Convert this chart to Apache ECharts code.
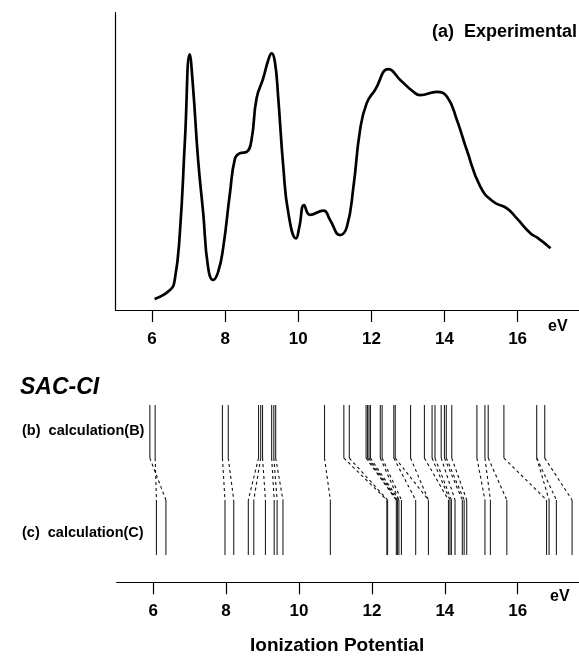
<!DOCTYPE html>
<html>
<head>
<meta charset="utf-8">
<script src="https://cdn.jsdelivr.net/npm/echarts@6/dist/echarts.min.js"></script>
<style>
html,body{margin:0;padding:0;background:#fff;}
#c{width:579px;height:669px;}
</style>
</head>
<body>
<div id="c"></div>
<script>
// Experimental spectrum (eV, relative intensity)
const expX = [6.07,6.49,6.62,6.76,6.90,7.03,7.12,7.26,7.40,7.53,7.67,7.81,7.95,8.13,8.27,8.40,8.59,8.72,8.86,9.04,9.18,9.27,9.36,9.45,9.59,9.73,9.94,10.03,10.16,10.32,10.69,10.87,11.14,11.33,11.51,11.69,11.87,12.10,12.47,12.79,13.15,13.33,13.79,14.07,14.34,14.61,14.98,15.34,15.71,15.98,16.35,16.53,16.90];
const expY = [3.7,6.7,10.1,25.8,57.2,86.0,75.1,50.5,32.5,14.6,10.1,12.9,21.3,39.2,51.0,52.7,53.2,57.2,71.2,77.9,84.1,86.3,83.5,71.7,48.2,32.5,24.1,28.0,35.3,32.0,33.4,30.3,25.2,28.0,41.5,60.5,69.5,74.0,81.0,77.4,73.4,72.3,73.4,71.7,63.9,53.8,41.5,36.4,34.2,30.8,25.8,24.4,20.8];

// SAC-CI calculated ionization potentials (eV)
const calcB = [5.91,6.055,7.90,8.06,8.89,8.95,9.00,9.25,9.31,9.36,10.70,11.23,11.38,11.84,11.88,11.92,11.96,12.23,12.28,12.60,12.64,13.06,13.44,13.65,13.73,13.90,13.99,14.04,14.19,14.88,15.10,15.19,15.62,16.52,16.74];
const calcC = [6.09,6.35,7.97,8.21,8.61,8.76,9.08,9.32,9.40,9.56,10.86,12.41,12.43,12.67,12.70,12.74,12.81,13.20,13.55,14.10,14.14,14.18,14.28,14.48,14.53,14.60,15.10,15.25,15.70,16.79,16.86,17.06,17.49];
// correlation links: [index in calcB, index in calcC]
const links = [[0,1],[1,0],[2,2],[3,3],[4,4],[5,5],[6,6],[7,7],[8,8],[9,9],[10,10],
  [11,11],[12,12],[13,13],[14,13],[15,14],[16,15],[17,15],[18,16],[19,17],[20,18],[21,18],
  [22,19],[23,20],[24,21],[25,22],[26,23],[27,24],[28,25],[29,26],[30,27],[31,28],[32,29],[33,30],[33,31],[34,32]];

const xTicks = [6,8,10,12,14,16];

const FONT = '"Liberation Sans", Arial, sans-serif';
// vertical layout (bottom panel y units)
const B_TOP = 92.2, B_BOT = 64.6, C_TOP = 42.8, C_BOT = 14.2;

function stickRender(yTop, yBot){
  return function(params, api){
    const x = api.value(0);
    const p1 = api.coord([x, yTop]);
    const p2 = api.coord([x, yBot]);
    return {type:'line', shape:{x1:p1[0],y1:p1[1],x2:p2[0],y2:p2[1]},
      style:{stroke:'#222', lineWidth:1.1}};
  };
}

const chart = echarts.init(document.getElementById('c'));
const xAxisBase = {
  type:'value', min:5, max:17.68,
  axisLine:{show:true, onZero:false, lineStyle:{color:'#000', width:1.2}},
  axisTick:{show:true, customValues:xTicks, length:12, lineStyle:{color:'#000', width:1.2}},
  axisLabel:{show:true, customValues:xTicks, margin:21, color:'#000', fontSize:17, fontWeight:'bold', fontFamily:FONT},
  splitLine:{show:false}
};
chart.setOption({
  animation:false,
  backgroundColor:'#fff',
  grid:[
    {left:115.5, right:0, top:12.7, bottom:669-310},
    {left:116.7, right:0, top:390, bottom:669-582.3}
  ],
  xAxis:[
    Object.assign({gridIndex:0}, xAxisBase),
    Object.assign({gridIndex:1}, xAxisBase)
  ],
  yAxis:[
    {gridIndex:0, type:'value', min:0, max:100, axisLine:{show:true, lineStyle:{color:'#000', width:1.2}},
      axisTick:{show:false}, axisLabel:{show:false}, splitLine:{show:false}},
    {gridIndex:1, type:'value', min:0, max:100, show:false, splitLine:{show:false}}
  ],
  series:[
    {type:'line', xAxisIndex:0, yAxisIndex:0, data:expX.map((x,i)=>[x,expY[i]]),
      smooth:0.5, symbol:'none', lineStyle:{color:'#000', width:2.7}},
    {type:'custom', xAxisIndex:1, yAxisIndex:1, data:calcB.map(v=>[v,0]),
      renderItem:stickRender(B_TOP,B_BOT), encode:{x:0}},
    {type:'custom', xAxisIndex:1, yAxisIndex:1, data:calcC.map(v=>[v,0]),
      renderItem:stickRender(C_TOP,C_BOT), encode:{x:0}},
    {type:'custom', xAxisIndex:1, yAxisIndex:1, data:links.map(([i,j])=>[calcB[i],calcC[j]]),
      encode:{x:[0,1]},
      renderItem:function(params, api){
        const p1 = api.coord([api.value(0), B_BOT]);
        const p2 = api.coord([api.value(1), C_TOP]);
        return {type:'line', shape:{x1:p1[0],y1:p1[1],x2:p2[0],y2:p2[1]},
          style:{stroke:'#111', lineWidth:1.1, lineDash:[3,3]}};
      }}
  ],
  graphic:[
    {type:'text', right:2, top:23, style:{text:'(a)  Experimental', font:'bold 18px '+FONT, fill:'#000'}},
    {type:'text', left:548, top:319, style:{text:'eV', font:'bold 16px '+FONT, fill:'#000'}},
    {type:'text', left:550, top:589, style:{text:'eV', font:'bold 16px '+FONT, fill:'#000'}},
    {type:'text', left:20, top:376, style:{text:'SAC-CI', font:'italic bold 23px '+FONT, fill:'#000'}},
    {type:'text', left:22, top:423, style:{text:'(b)  calculation(B)', font:'bold 14.5px '+FONT, fill:'#000'}},
    {type:'text', left:22, top:525, style:{text:'(c)  calculation(C)', font:'bold 14.5px '+FONT, fill:'#000'}},
    {type:'text', left:250, top:636, style:{text:'Ionization Potential', font:'bold 19px '+FONT, fill:'#000'}}
  ]
});
</script>
</body>
</html>
